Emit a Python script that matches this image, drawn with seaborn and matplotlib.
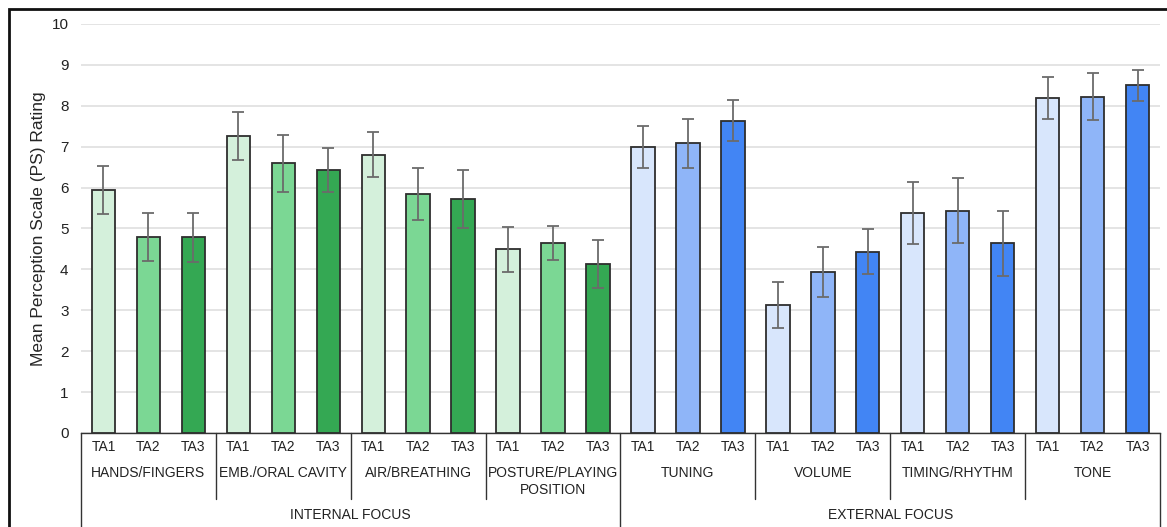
import numpy as np
import pandas as pd
import matplotlib
matplotlib.use("Agg")
import matplotlib.pyplot as plt
import matplotlib.transforms as mtransforms
from matplotlib.patches import Rectangle
import seaborn as sns

# ---- data ----
focus_groups = ["INTERNAL FOCUS", "EXTERNAL FOCUS"]
categories = ["HANDS/FINGERS", "EMB./ORAL CAVITY", "AIR/BREATHING",
              "POSTURE/PLAYING\nPOSITION", "TUNING", "VOLUME",
              "TIMING/RHYTHM", "TONE"]
category_focus = [0, 0, 0, 0, 1, 1, 1, 1]
attempts = ["TA1", "TA2", "TA3"]

means = [
    [5.94, 4.79, 4.79],   # hands/fingers
    [7.26, 6.59, 6.43],   # emb./oral cavity
    [6.80, 5.84, 5.72],   # air/breathing
    [4.49, 4.64, 4.14],   # posture/playing position
    [6.99, 7.08, 7.64],   # tuning
    [3.12, 3.93, 4.43],   # volume
    [5.38, 5.44, 4.64],   # timing/rhythm
    [8.19, 8.22, 8.50],   # tone
]
errors = [
    [0.59, 0.59, 0.60],
    [0.58, 0.70, 0.53],
    [0.55, 0.64, 0.72],
    [0.55, 0.41, 0.59],
    [0.52, 0.60, 0.50],
    [0.56, 0.61, 0.55],
    [0.75, 0.79, 0.79],
    [0.52, 0.57, 0.38],
]

green_shades = ["#d4f0db", "#7bd794", "#34a853"]
blue_shades = ["#d8e6fc", "#8fb5f8", "#4285f4"]

# ---- long table ----
rows = []
for ci, cat in enumerate(categories):
    shades = green_shades if category_focus[ci] == 0 else blue_shades
    for ai, ta in enumerate(attempts):
        rows.append({
            "slot": f"{cat}|{ta}",
            "category": cat,
            "attempt": ta,
            "mean": means[ci][ai],
            "err": errors[ci][ai],
            "color": shades[ai],
        })
df = pd.DataFrame(rows)
palette = dict(zip(df["slot"], df["color"]))

sns.set_style("white")
plt.rcParams["font.family"] = ["Liberation Sans", "DejaVu Sans"]

fig = plt.figure(figsize=(11.67, 5.27), dpi=100)
ax = fig.add_axes([81 / 1167, 1 - 433 / 527, (1160 - 81) / 1167, (433 - 24) / 527])

sns.barplot(data=df, x="slot", y="mean", hue="slot", palette=palette,
            legend=False, width=0.52, saturation=1.0, edgecolor="#2e2e2e",
            linewidth=1.3, errorbar=None, ax=ax, zorder=3)

xpos = np.arange(len(df))
ax.errorbar(xpos, df["mean"], yerr=df["err"], fmt="none",
            ecolor="#6b6b6b", elinewidth=1.3, capsize=4, capthick=1.3, zorder=4)

ax.set_xlim(-0.5, len(df) - 0.5)
ax.set_ylim(0, 10)
ax.set_yticks(range(0, 11))
ax.yaxis.grid(True, color="#dcdcdc", linewidth=1.1, zorder=0)
ax.set_axisbelow(True)
ax.tick_params(axis="y", labelsize=11, length=0, pad=9, colors="#222222")
ax.set_xticks([])
ax.set_xlabel("")
ax.set_ylabel("Mean Perception Scale (PS) Rating", fontsize=12.5)
ax.yaxis.set_label_coords(-35 / 1079, 0.5)
for side in ["left", "right", "top"]:
    ax.spines[side].set_visible(False)
ax.spines["bottom"].set_color("#333333")
ax.spines["bottom"].set_linewidth(1.0)

# ---- multi-level category axis ----
trans = mtransforms.blended_transform_factory(ax.transData, ax.transAxes)
px = 1.0 / (433 - 24)  # one pixel in axes-fraction units (vertical)
line_kw = dict(color="#333333", linewidth=1.0, transform=trans, clip_on=False)
txt_kw = dict(transform=trans, ha="center", va="center", fontsize=10,
              color="#222222")

for i, ta in enumerate(df["attempt"]):
    ax.text(i, -14 * px, ta, **txt_kw)

n = len(attempts)
for ci, cat in enumerate(categories):
    center = ci * n + (n - 1) / 2
    if "\n" in cat:
        first, second = cat.split("\n")
        ax.text(center, -40 * px, first, **txt_kw)
        ax.text(center, -57 * px, second, **txt_kw)
    else:
        ax.text(center, -40 * px, cat, **txt_kw)

# separators between categories (short) and between focus groups (long)
for ci in range(len(categories) + 1):
    xb = ci * n - 0.5
    is_focus_edge = ci in (0, len(categories)) or category_focus[ci] != category_focus[ci - 1]
    depth = 95 if is_focus_edge else 66
    ax.plot([xb, xb], [0, -depth * px], **line_kw)

for fi, name in enumerate(focus_groups):
    idx = [ci for ci, f in enumerate(category_focus) if f == fi]
    center = (idx[0] * n + idx[-1] * n + n - 1) / 2
    ax.text(center, -82 * px, name, **txt_kw)

# outer frame around the chart
fig.patches.append(Rectangle((9 / 1167, -0.1), 1.2, 1 - 9 / 527 + 0.1,
                             transform=fig.transFigure, fill=False,
                             edgecolor="#111111", linewidth=2.0))

fig.savefig("out.png", dpi=100, facecolor="white")
